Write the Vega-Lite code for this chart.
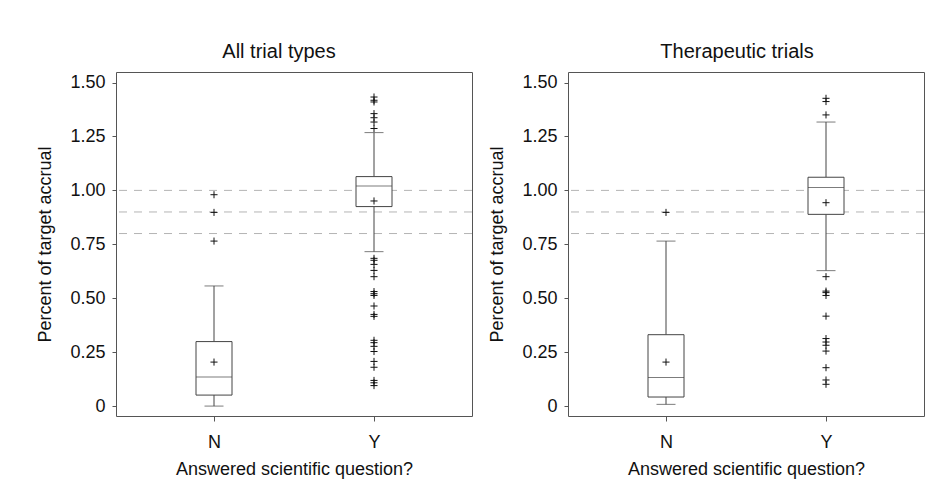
{
  "$schema": "https://vega.github.io/schema/vega-lite/v6.json",
  "padding": {"left": 36, "top": 41, "right": 5, "bottom": 5},
  "background": "white",
  "datasets": {
    "boxes": [
      {"panel": "all", "answered": "N", "lower": 0.0, "q1": 0.051, "median": 0.135, "q3": 0.299, "upper": 0.557, "mean": 0.204},
      {"panel": "all", "answered": "Y", "lower": 0.716, "q1": 0.925, "median": 1.020, "q3": 1.064, "upper": 1.268, "mean": 0.951},
      {"panel": "ther", "answered": "N", "lower": 0.008, "q1": 0.042, "median": 0.132, "q3": 0.331, "upper": 0.765, "mean": 0.204},
      {"panel": "ther", "answered": "Y", "lower": 0.628, "q1": 0.889, "median": 1.014, "q3": 1.061, "upper": 1.317, "mean": 0.943}
    ],
    "outliers": [
      {"panel": "all", "answered": "N", "value": 0.980},
      {"panel": "all", "answered": "N", "value": 0.898},
      {"panel": "all", "answered": "N", "value": 0.765},
      {"panel": "all", "answered": "Y", "value": 1.433},
      {"panel": "all", "answered": "Y", "value": 1.418},
      {"panel": "all", "answered": "Y", "value": 1.410},
      {"panel": "all", "answered": "Y", "value": 1.356},
      {"panel": "all", "answered": "Y", "value": 1.337},
      {"panel": "all", "answered": "Y", "value": 1.317},
      {"panel": "all", "answered": "Y", "value": 1.287},
      {"panel": "all", "answered": "Y", "value": 0.685},
      {"panel": "all", "answered": "Y", "value": 0.676},
      {"panel": "all", "answered": "Y", "value": 0.657},
      {"panel": "all", "answered": "Y", "value": 0.629},
      {"panel": "all", "answered": "Y", "value": 0.600},
      {"panel": "all", "answered": "Y", "value": 0.531},
      {"panel": "all", "answered": "Y", "value": 0.521},
      {"panel": "all", "answered": "Y", "value": 0.513},
      {"panel": "all", "answered": "Y", "value": 0.464},
      {"panel": "all", "answered": "Y", "value": 0.425},
      {"panel": "all", "answered": "Y", "value": 0.416},
      {"panel": "all", "answered": "Y", "value": 0.305},
      {"panel": "all", "answered": "Y", "value": 0.294},
      {"panel": "all", "answered": "Y", "value": 0.277},
      {"panel": "all", "answered": "Y", "value": 0.253},
      {"panel": "all", "answered": "Y", "value": 0.207},
      {"panel": "all", "answered": "Y", "value": 0.180},
      {"panel": "all", "answered": "Y", "value": 0.119},
      {"panel": "all", "answered": "Y", "value": 0.108},
      {"panel": "all", "answered": "Y", "value": 0.095},
      {"panel": "ther", "answered": "N", "value": 0.898},
      {"panel": "ther", "answered": "Y", "value": 1.427},
      {"panel": "ther", "answered": "Y", "value": 1.412},
      {"panel": "ther", "answered": "Y", "value": 1.350},
      {"panel": "ther", "answered": "Y", "value": 0.600},
      {"panel": "ther", "answered": "Y", "value": 0.533},
      {"panel": "ther", "answered": "Y", "value": 0.526},
      {"panel": "ther", "answered": "Y", "value": 0.513},
      {"panel": "ther", "answered": "Y", "value": 0.417},
      {"panel": "ther", "answered": "Y", "value": 0.313},
      {"panel": "ther", "answered": "Y", "value": 0.297},
      {"panel": "ther", "answered": "Y", "value": 0.282},
      {"panel": "ther", "answered": "Y", "value": 0.255},
      {"panel": "ther", "answered": "Y", "value": 0.178},
      {"panel": "ther", "answered": "Y", "value": 0.121},
      {"panel": "ther", "answered": "Y", "value": 0.101}
    ],
    "refs": [
      {"level": 1.0},
      {"level": 0.9},
      {"level": 0.8}
    ]
  },
  "hconcat": [
    {
      "width": 356,
      "height": 344,
      "title": {"text": "All trial types", "dx": -15},
      "layer": [
        {
          "data": {"name": "refs"},
          "mark": {"type": "rule", "color": "#b4b4b4", "strokeWidth": 1, "strokeDash": [8, 7]},
          "encoding": {
            "y": {"field": "level", "type": "quantitative", "title": "Percent of target accrual",
                  "scale": {"domain": [-0.046, 1.549], "nice": false, "zero": false},
                  "axis": {"values": [0, 0.25, 0.5, 0.75, 1, 1.25, 1.5], "labelExpr": "datum.value == 0 ? '0' : format(datum.value, '.2f')"}}
          }
        },
        {
          "data": {"name": "boxes"},
          "transform": [{"filter": "datum.panel == 'all'"}],
          "mark": {"type": "rule", "color": "#444"},
          "encoding": {
            "x": {"field": "answered", "type": "nominal", "title": "Answered scientific question?", "scale": {"type": "point", "domain": ["N", "Y"], "padding": 0.6125}},
            "y": {"field": "q3", "type": "quantitative", "title": "Percent of target accrual"},
            "y2": {"field": "upper"}
          }
        },
        {
          "data": {"name": "boxes"},
          "transform": [{"filter": "datum.panel == 'all'"}],
          "mark": {"type": "rule", "color": "#444"},
          "encoding": {
            "x": {"field": "answered", "type": "nominal", "title": "Answered scientific question?"},
            "y": {"field": "lower", "type": "quantitative", "title": "Percent of target accrual"},
            "y2": {"field": "q1"}
          }
        },
        {
          "data": {"name": "boxes"},
          "transform": [{"filter": "datum.panel == 'all'"}],
          "mark": {"type": "bar", "size": 36, "fill": "white", "stroke": "#444", "strokeWidth": 1},
          "encoding": {
            "x": {"field": "answered", "type": "nominal", "title": "Answered scientific question?"},
            "y": {"field": "q1", "type": "quantitative", "title": "Percent of target accrual"},
            "y2": {"field": "q3"}
          }
        },
        {
          "data": {"name": "boxes"},
          "transform": [{"filter": "datum.panel == 'all'"}],
          "mark": {"type": "tick", "size": 36, "thickness": 1, "color": "#444"},
          "encoding": {
            "x": {"field": "answered", "type": "nominal", "title": "Answered scientific question?"},
            "y": {"field": "median", "type": "quantitative", "title": "Percent of target accrual"}
          }
        },
        {
          "data": {"name": "boxes"},
          "transform": [{"filter": "datum.panel == 'all'"}],
          "mark": {"type": "tick", "size": 19, "thickness": 1, "color": "#444"},
          "encoding": {
            "x": {"field": "answered", "type": "nominal", "title": "Answered scientific question?"},
            "y": {"field": "upper", "type": "quantitative", "title": "Percent of target accrual"}
          }
        },
        {
          "data": {"name": "boxes"},
          "transform": [{"filter": "datum.panel == 'all'"}],
          "mark": {"type": "tick", "size": 19, "thickness": 1, "color": "#444"},
          "encoding": {
            "x": {"field": "answered", "type": "nominal", "title": "Answered scientific question?"},
            "y": {"field": "lower", "type": "quantitative", "title": "Percent of target accrual"}
          }
        },
        {
          "data": {"name": "boxes"},
          "transform": [{"filter": "datum.panel == 'all'"}],
          "mark": {"type": "point", "shape": "M-1,0H1M0,-1V1", "size": 50, "filled": false, "color": "#111", "strokeWidth": 1, "opacity": 1},
          "encoding": {
            "x": {"field": "answered", "type": "nominal", "title": "Answered scientific question?"},
            "y": {"field": "mean", "type": "quantitative", "title": "Percent of target accrual"}
          }
        },
        {
          "data": {"name": "outliers"},
          "transform": [{"filter": "datum.panel == 'all'"}],
          "mark": {"type": "point", "shape": "M-1,0H1M0,-1V1", "size": 50, "filled": false, "color": "#111", "strokeWidth": 1, "opacity": 1},
          "encoding": {
            "x": {"field": "answered", "type": "nominal", "title": "Answered scientific question?"},
            "y": {"field": "value", "type": "quantitative", "title": "Percent of target accrual"}
          }
        }
      ]
    },
    {
      "width": 356,
      "height": 344,
      "title": {"text": "Therapeutic trials", "dx": -9},
      "layer": [
        {
          "data": {"name": "refs"},
          "mark": {"type": "rule", "color": "#b4b4b4", "strokeWidth": 1, "strokeDash": [8, 7]},
          "encoding": {
            "y": {"field": "level", "type": "quantitative", "title": "Percent of target accrual",
                  "scale": {"domain": [-0.046, 1.549], "nice": false, "zero": false},
                  "axis": {"values": [0, 0.25, 0.5, 0.75, 1, 1.25, 1.5], "labelExpr": "datum.value == 0 ? '0' : format(datum.value, '.2f')"}}
          }
        },
        {
          "data": {"name": "boxes"},
          "transform": [{"filter": "datum.panel == 'ther'"}],
          "mark": {"type": "rule", "color": "#444"},
          "encoding": {
            "x": {"field": "answered", "type": "nominal", "title": "Answered scientific question?", "scale": {"type": "point", "domain": ["N", "Y"], "padding": 0.6125}},
            "y": {"field": "q3", "type": "quantitative", "title": "Percent of target accrual"},
            "y2": {"field": "upper"}
          }
        },
        {
          "data": {"name": "boxes"},
          "transform": [{"filter": "datum.panel == 'ther'"}],
          "mark": {"type": "rule", "color": "#444"},
          "encoding": {
            "x": {"field": "answered", "type": "nominal", "title": "Answered scientific question?"},
            "y": {"field": "lower", "type": "quantitative", "title": "Percent of target accrual"},
            "y2": {"field": "q1"}
          }
        },
        {
          "data": {"name": "boxes"},
          "transform": [{"filter": "datum.panel == 'ther'"}],
          "mark": {"type": "bar", "size": 36, "fill": "white", "stroke": "#444", "strokeWidth": 1},
          "encoding": {
            "x": {"field": "answered", "type": "nominal", "title": "Answered scientific question?"},
            "y": {"field": "q1", "type": "quantitative", "title": "Percent of target accrual"},
            "y2": {"field": "q3"}
          }
        },
        {
          "data": {"name": "boxes"},
          "transform": [{"filter": "datum.panel == 'ther'"}],
          "mark": {"type": "tick", "size": 36, "thickness": 1, "color": "#444"},
          "encoding": {
            "x": {"field": "answered", "type": "nominal", "title": "Answered scientific question?"},
            "y": {"field": "median", "type": "quantitative", "title": "Percent of target accrual"}
          }
        },
        {
          "data": {"name": "boxes"},
          "transform": [{"filter": "datum.panel == 'ther'"}],
          "mark": {"type": "tick", "size": 19, "thickness": 1, "color": "#444"},
          "encoding": {
            "x": {"field": "answered", "type": "nominal", "title": "Answered scientific question?"},
            "y": {"field": "upper", "type": "quantitative", "title": "Percent of target accrual"}
          }
        },
        {
          "data": {"name": "boxes"},
          "transform": [{"filter": "datum.panel == 'ther'"}],
          "mark": {"type": "tick", "size": 19, "thickness": 1, "color": "#444"},
          "encoding": {
            "x": {"field": "answered", "type": "nominal", "title": "Answered scientific question?"},
            "y": {"field": "lower", "type": "quantitative", "title": "Percent of target accrual"}
          }
        },
        {
          "data": {"name": "boxes"},
          "transform": [{"filter": "datum.panel == 'ther'"}],
          "mark": {"type": "point", "shape": "M-1,0H1M0,-1V1", "size": 50, "filled": false, "color": "#111", "strokeWidth": 1, "opacity": 1},
          "encoding": {
            "x": {"field": "answered", "type": "nominal", "title": "Answered scientific question?"},
            "y": {"field": "mean", "type": "quantitative", "title": "Percent of target accrual"}
          }
        },
        {
          "data": {"name": "outliers"},
          "transform": [{"filter": "datum.panel == 'ther'"}],
          "mark": {"type": "point", "shape": "M-1,0H1M0,-1V1", "size": 50, "filled": false, "color": "#111", "strokeWidth": 1, "opacity": 1},
          "encoding": {
            "x": {"field": "answered", "type": "nominal", "title": "Answered scientific question?"},
            "y": {"field": "value", "type": "quantitative", "title": "Percent of target accrual"}
          }
        }
      ]
    }
  ],
  "spacing": 15,
  "config": {
    "font": "Liberation Sans",
    "view": {"stroke": "#555", "strokeWidth": 1},
    "axis": {"grid": false, "domain": false, "tickColor": "#555", "labelFontSize": 18, "titleFontSize": 18, "labelColor": "#111", "titleColor": "#111", "labelFont": "Liberation Sans", "titleFont": "Liberation Sans", "titleFontWeight": "normal"},
    "axisY": {"tickSize": 4, "labelPadding": 7, "titlePadding": 15},
    "axisX": {"tickSize": 5, "labelPadding": 12, "titlePadding": 9, "labelAngle": 0},
    "title": {"fontSize": 20, "fontWeight": "normal", "font": "Liberation Sans", "color": "#111", "offset": 10}
  }
}
